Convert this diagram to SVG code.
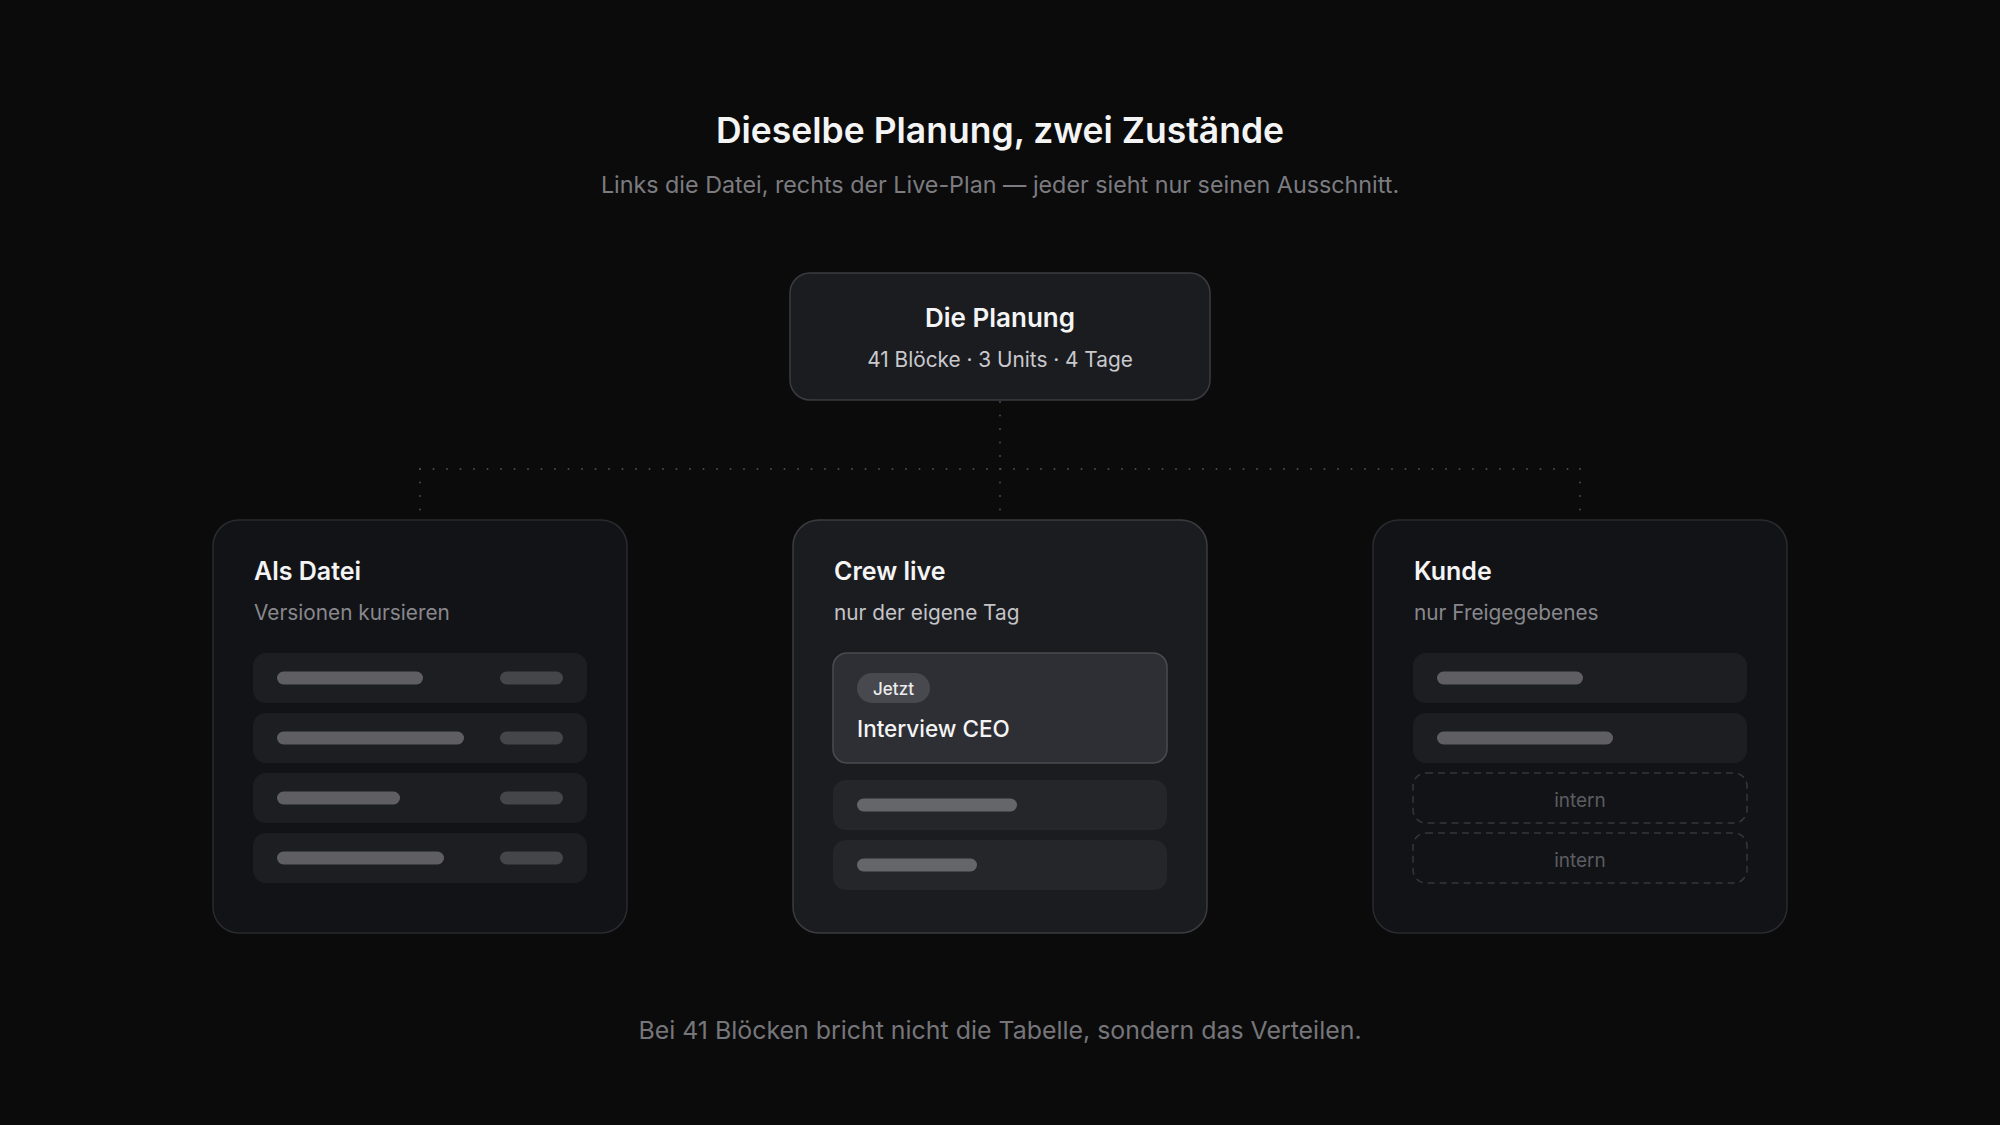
<svg xmlns="http://www.w3.org/2000/svg" width="2000" height="1125" viewBox="0 0 2000 1125">
<style>
text{font-family:Inter,"Noto Sans","Liberation Sans",sans-serif}
.h1{font-size:35.5px;font-weight:600;fill:#f4f4f5}
.sub{font-size:23.3px;fill:#7c7c80}
.foot{font-size:24.9px;fill:#76767a}
.card{fill:#121317;stroke:#2a2b2f;stroke-width:1.5}
.cardA{fill:#1b1c20;stroke:#3b3c40;stroke-width:1.5}
.ct{font-size:25px;font-weight:600;fill:#f4f4f5}
.cs{font-size:20.8px;fill:#88888c}
.row{fill:#1d1e22}
.rowA{fill:#25262a}
.bar{fill:#5f5f63}
.barS{fill:#45464a}
.dash{fill:none;stroke:#36373b;stroke-width:1.5;stroke-dasharray:7 5}
.int{font-size:19px;fill:#5c5d61;text-anchor:middle}
.conn{fill:none;stroke:#4a4b4f;stroke-width:2;stroke-linecap:round;stroke-dasharray:0 13.5}
</style>
<rect width="2000" height="1125" fill="#0b0b0c"/>
<text class="h1" x="1000" y="143" text-anchor="middle">Dieselbe Planung, zwei Zustände</text>
<text class="sub" x="1000" y="193" text-anchor="middle">Links die Datei, rechts der Live-Plan — jeder sieht nur seinen Ausschnitt.</text>
<g id="connectors">
<path class="conn" d="M1000 402 V469"/>
<path class="conn" d="M420 469 H1580"/>
<path class="conn" d="M420 469 V512"/>
<path class="conn" d="M1000 469 V512"/>
<path class="conn" d="M1580 469 V512"/>
</g>
<g id="planung">
<rect x="790" y="273" width="420" height="127" rx="20" fill="#1b1c20" stroke="#3b3c40" stroke-width="1.5"/>
<text x="1000" y="327" text-anchor="middle" font-size="26" font-weight="600" fill="#f4f4f5">Die Planung</text>
<text x="1000" y="367" text-anchor="middle" font-size="20.8" fill="#c9c9cd">41 Blöcke · 3 Units · 4 Tage</text>
</g>
<g id="datei">
<rect class="card" x="213" y="520" width="414" height="413" rx="26"/>
<text class="ct" x="254" y="580">Als Datei</text>
<text class="cs" x="254" y="620">Versionen kursieren</text>
<rect class="row" x="253" y="653" width="334" height="50" rx="13"/>
<rect class="row" x="253" y="713" width="334" height="50" rx="13"/>
<rect class="row" x="253" y="773" width="334" height="50" rx="13"/>
<rect class="row" x="253" y="833" width="334" height="50" rx="13"/>
<rect class="bar" x="277" y="671.5" width="146" height="13" rx="6.5"/>
<rect class="bar" x="277" y="731.5" width="187" height="13" rx="6.5"/>
<rect class="bar" x="277" y="791.5" width="123" height="13" rx="6.5"/>
<rect class="bar" x="277" y="851.5" width="167" height="13" rx="6.5"/>
<rect class="barS" x="500" y="671.5" width="63" height="13" rx="6.5"/>
<rect class="barS" x="500" y="731.5" width="63" height="13" rx="6.5"/>
<rect class="barS" x="500" y="791.5" width="63" height="13" rx="6.5"/>
<rect class="barS" x="500" y="851.5" width="63" height="13" rx="6.5"/>
</g>
<g id="crew">
<rect class="cardA" x="793" y="520" width="414" height="413" rx="26"/>
<text class="ct" x="834" y="580">Crew live</text>
<text class="cs" x="834" y="620" style="fill:#c4c4c8">nur der eigene Tag</text>
<rect x="833" y="653" width="334" height="110" rx="14" fill="#2e2f34" stroke="#4a4b50" stroke-width="1.5"/>
<rect x="857" y="673" width="73" height="30" rx="15" fill="#48494e"/>
<text x="893.5" y="695" text-anchor="middle" font-size="17" font-weight="500" fill="#ececee">Jetzt</text>
<text x="857" y="737" font-size="22.5" font-weight="500" fill="#f4f4f5">Interview CEO</text>
<rect class="rowA" x="833" y="780" width="334" height="50" rx="13"/>
<rect class="rowA" x="833" y="840" width="334" height="50" rx="13"/>
<rect x="857" y="798.5" width="160" height="13" rx="6.5" fill="#656669"/>
<rect x="857" y="858.5" width="120" height="13" rx="6.5" fill="#656669"/>
</g>
<g id="kunde">
<rect class="card" x="1373" y="520" width="414" height="413" rx="26"/>
<text class="ct" x="1414" y="580">Kunde</text>
<text class="cs" x="1414" y="620">nur Freigegebenes</text>
<rect class="row" x="1413" y="653" width="334" height="50" rx="13"/>
<rect class="row" x="1413" y="713" width="334" height="50" rx="13"/>
<rect class="bar" x="1437" y="671.5" width="146" height="13" rx="6.5"/>
<rect class="bar" x="1437" y="731.5" width="176" height="13" rx="6.5"/>
<rect class="dash" x="1413" y="773" width="334" height="50" rx="13"/>
<rect class="dash" x="1413" y="833" width="334" height="50" rx="13"/>
<text class="int" x="1580" y="807">intern</text>
<text class="int" x="1580" y="867">intern</text>
</g>
<text class="foot" x="1000" y="1039" text-anchor="middle">Bei 41 Blöcken bricht nicht die Tabelle, sondern das Verteilen.</text>
</svg>
